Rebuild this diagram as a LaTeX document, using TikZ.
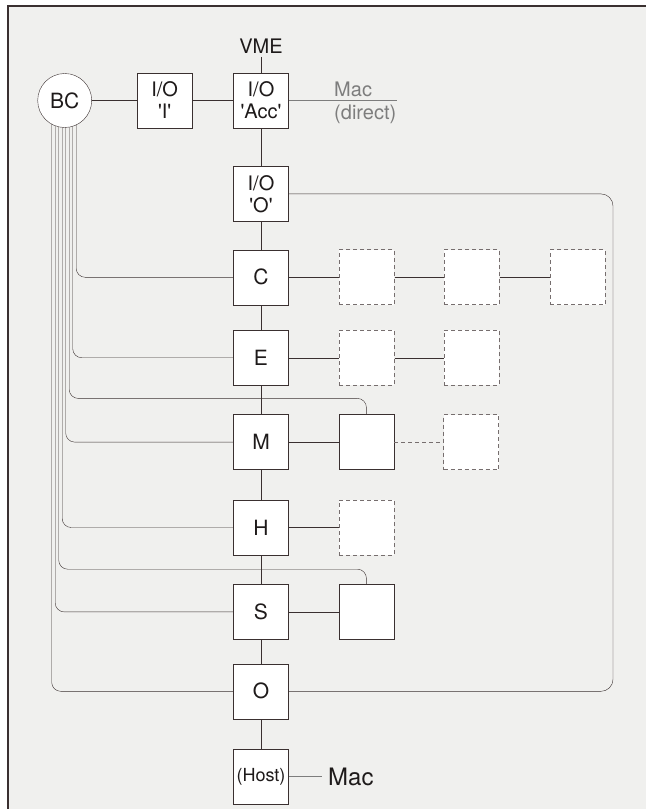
\documentclass[tikz,border=0pt]{standalone}
\usepackage{fontspec}
\setmainfont{TeX Gyre Heros}
\usetikzlibrary{positioning, backgrounds}

\definecolor{wire}{RGB}{58,48,48}
\definecolor{ink}{RGB}{30,26,26}
\definecolor{paper}{RGB}{240,240,238}
\definecolor{ghost}{RGB}{118,110,110}
\definecolor{faint}{RGB}{125,125,125}

\pgfdeclarelayer{wires}
\pgfsetlayers{background,wires,main}

\newcommand{\sq}{\textquotesingle}

\begin{document}
\begin{tikzpicture}[
		x=1pt, y=1pt,
		line width=1.2pt,
		unit/.style={draw=wire, fill=white, rectangle, minimum size=55pt, inner sep=0pt, align=center, text=ink, font=\fontsize{21}{23}\selectfont},
		spare/.style={unit, draw=ghost, line width=1pt, dash pattern=on 4pt off 3pt},
		hub/.style={draw=wire, fill=white, circle, minimum size=54pt, inner sep=0pt, text=ink, font=\fontsize{21}{23}\selectfont},
		link/.style={draw=wire},
		bus/.style={draw=wire, rounded corners=9pt}
	]

	\useasboundingbox (0,0) rectangle (646,-809);

	% paper and frame
	\begin{pgfonlayer}{background}
		\fill[paper] (8,-6) rectangle (646,-809);
		\draw[wire, line width=1.6pt] (8,-809) -- (8,-6) -- (646,-6);
	\end{pgfonlayer}

	% Nodes
	\node[unit, font=\fontsize{20}{22}\selectfont] (acc) at (261,-100.5) {I/O \\ \sq Acc\sq};
	\node[unit, font=\fontsize{20}{22}\selectfont, left=41pt of acc] (ioi) {I/O \\ \sq I\sq};
	\node[hub, left=45pt of ioi] (bc) {BC};
	\node[text=ink, font=\fontsize{20}{22}\selectfont, above=16pt of acc] (vme) {VME};
	\node[text=faint, font=\fontsize{20}{23}\selectfont, align=left, anchor=west, yshift=-2pt] (direct) at ([xshift=42pt]acc.east) {Mac \\ (direct)};

	\node[unit, font=\fontsize{20}{22}\selectfont, below=38pt of acc] (ioo) {I/O \\ \sq O\sq};
	\node[unit, below=28pt of ioo] (c) {C};
	\node[unit, below=25pt of c] (e) {E};
	\node[unit, below=29pt of e] (m) {M};
	\node[unit, below=30pt of m] (h) {H};
	\node[unit, below=29pt of h] (s) {S};
	\node[unit, below=24pt of s] (o) {O};
	\node[unit, below=30pt of o, font=\fontsize{18}{20}\selectfont] (host) {(Host)};
	\node[text=ink, font=\fontsize{24}{26}\selectfont, right=36pt of host] (mac) {Mac};

	\node[spare, right=50pt of c] (c1) {};
	\node[spare, right=49pt of c1] (c2) {};
	\node[spare, right=50pt of c2] (c3) {};

	\node[spare, right=50pt of e] (e1) {};
	\node[spare, right=49pt of e1] (e2) {};

	\node[unit, right=50pt of m] (mr) {};
	\node[spare, right=49pt of mr] (md) {};

	\node[spare, right=50pt of h] (hd) {};

	\node[unit, right=50pt of s] (sr) {};

	% Links
	\draw[link] (bc) -- (ioi);
	\draw[link] (ioi) -- (acc);
	\draw[link] (vme) -- (acc);
	\draw[faint, line width=0.9pt] (acc.east) -- ([xshift=-3pt]direct.east |- acc.east);

	\foreach \top/\bot in {acc/ioo, ioo/c, c/e, e/m, m/h, h/s, s/o, o/host}
		\draw[link] (\top) -- (\bot);

	\draw[link] (c) -- (c1);
	\draw[link] (c1) -- (c2);
	\draw[link] (c2) -- (c3);
	\draw[link] (e) -- (e1);
	\draw[link] (e1) -- (e2);
	\draw[link] (m) -- (mr);
	\draw[ghost, line width=1pt, dash pattern=on 4pt off 3pt] (mr) -- (md);
	\draw[link] (h) -- (hd);
	\draw[link] (s) -- (sr);

	\draw[faint, line width=0.9pt, shorten >=3pt] (host) -- (mac);

	% return loop on the right
	\draw[wire, rounded corners=12pt] (ioo.east) -| (613,-400) |- (o.east);

	% bundle out of BC
	\begin{pgfonlayer}{wires}
		\foreach \dx/\dst in {11.5/c, 8/e, 1/m, -2.5/h, -9.5/s, -13/o}
			\draw[bus] ([xshift=\dx pt]bc.center) |- (\dst.west);
		\draw[bus] ([xshift=4.5pt]bc.center) |- ([yshift=16pt]mr.north) -- (mr.north);
		\draw[bus] ([xshift=-6pt]bc.center) |- ([yshift=15pt]sr.north) -- (sr.north);
	\end{pgfonlayer}

\end{tikzpicture}
\end{document}
